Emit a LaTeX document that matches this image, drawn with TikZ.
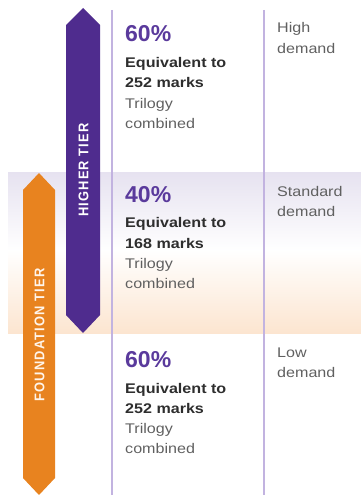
\documentclass[tikz,border=0pt]{standalone}
\usepackage{fontspec}
\setmainfont{Liberation Sans}
\newfontfamily\tierfont[LetterSpace=9]{Liberation Sans}
\definecolor{tierpurple}{HTML}{4F2C8E}
\definecolor{pctpurple}{HTML}{5A3A9C}
\definecolor{tierorange}{HTML}{E8831F}
\definecolor{rulelav}{HTML}{C2B3E0}
\definecolor{bandtop}{HTML}{E6E2F0}
\definecolor{bandbot}{HTML}{FCE5D0}
\definecolor{boldtxt}{HTML}{2E2E2E}
\definecolor{graytxt}{HTML}{606060}
\tikzset{
  pct/.style={anchor=base west, inner sep=0pt, text=pctpurple, font=\fontsize{23}{23}\selectfont\bfseries},
  eqv/.style={anchor=base west, inner sep=0pt, text=boldtxt, font=\fontsize{14}{14}\selectfont\bfseries},
  tri/.style={anchor=base west, inner sep=0pt, text=graytxt, font=\fontsize{14}{14}\selectfont},
  dem/.style={anchor=base west, inner sep=0pt, text=graytxt, font=\fontsize{14}{14}\selectfont},
  tierlbl/.style={rotate=90, inner sep=0pt, font=\fontsize{14}{14}\selectfont\tierfont\bfseries},
  rulel/.style={draw=rulelav, line width=1.2pt}
}
\newcommand{\wide}[1]{\scalebox{1.15}[1]{#1}}
\newcommand{\narrow}[1]{\scalebox{0.92}[1]{#1}}
\begin{document}
\begin{tikzpicture}[x=1pt,y=-1pt]
\useasboundingbox (0,0) rectangle (361,495);
% band
\shade[top color=bandtop, bottom color=white] (8,172) rectangle (361,251);
\shade[top color=white, bottom color=bandbot] (8,250) rectangle (361,333);
% rules
\draw[rulel] (112,10) -- (112,495);
\draw[rulel] (264,10) -- (264,495);
% arrows
\fill[tierpurple] (66,25) -- (83,8) -- (100,25) -- (100,315) -- (83,333) -- (66,315) -- cycle;
\fill[tierorange] (23,190) -- (39,173) -- (55,190) -- (55,478) -- (39,495) -- (23,478) -- cycle;
\node[tierlbl, text=white] (higher) at (83.5,170) {\narrow{HIGHER TIER}};
\node[tierlbl, text=white!92!orange] (found) at (39.5,335) {\narrow{FOUNDATION TIER}};
% block 1
\node[pct] (p1) at (125,42) {60\%};
\node[eqv] (e1) at (125,67) {\wide{Equivalent to}};
\node[eqv] (m1) at (125,88) {\wide{252 marks}};
\node[tri] (t1) at (125,108) {\wide{Trilogy}};
\node[tri] (c1) at (125,128) {\wide{combined}};
% block 2
\node[pct] (p2) at (125,202) {40\%};
\node[eqv] (e2) at (125,227) {\wide{Equivalent to}};
\node[eqv] (m2) at (125,248) {\wide{168 marks}};
\node[tri] (t2) at (125,268) {\wide{Trilogy}};
\node[tri] (c2) at (125,288) {\wide{combined}};
% block 3
\node[pct] (p3) at (125,367) {60\%};
\node[eqv] (e3) at (125,393) {\wide{Equivalent to}};
\node[eqv] (m3) at (125,413) {\wide{252 marks}};
\node[tri] (t3) at (125,433) {\wide{Trilogy}};
\node[tri] (c3) at (125,453) {\wide{combined}};
% demand column
\node[dem] (h1) at (277,33) {\wide{High}};
\node[dem] (h2) at (277,53) {\wide{demand}};
\node[dem] (s1) at (277,196) {\wide{Standard}};
\node[dem] (s2) at (277,216) {\wide{demand}};
\node[dem] (l1) at (277,357) {\wide{Low}};
\node[dem] (l2) at (277,377) {\wide{demand}};
\end{tikzpicture}
\end{document}
